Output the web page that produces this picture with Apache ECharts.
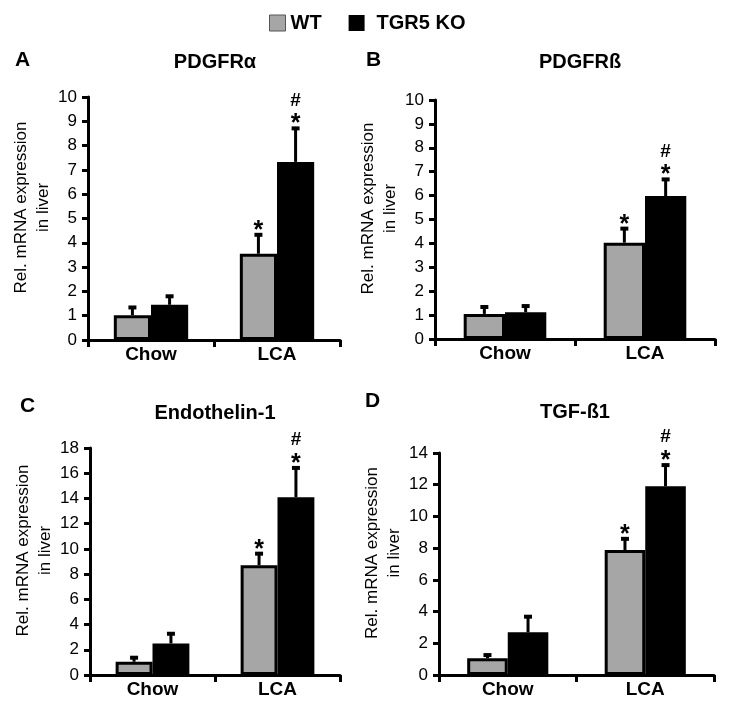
<!DOCTYPE html>
<html>
<head>
<meta charset="utf-8">
<script src="https://cdn.jsdelivr.net/npm/echarts@6/dist/echarts.min.js"></script>
<style>
  html, body { margin: 0; padding: 0; background: #fff; }
  #chart { width: 729px; height: 704px; }
</style>
</head>
<body>
<div id="chart"></div>
<script>
// data
const categories = ['Chow', 'LCA'];
const panelLetters = ['A', 'B', 'C', 'D'];
const panelTitles = ['PDGFRα', 'PDGFRß', 'Endothelin-1', 'TGF-ß1'];
const yMax = [10, 10, 18, 14];
const yStep = [1, 1, 2, 2];

const wtMean = [[1.02, 3.55], [1.05, 4.03], [1.05, 8.7], [1.05, 7.88]];
const wtErr = [[0.36, 0.82], [0.33, 0.63], [0.4, 1.0], [0.27, 0.77]];
const koMean = [[1.45, 7.33], [1.12, 5.98], [2.5, 14.1], [2.69, 11.9]];
const koErr = [[0.39, 1.42], [0.3, 0.74], [0.85, 2.4], [1.05, 1.4]];

// significance marks (bottom to top)
const wtMarks = [['', '*'], ['', '*'], ['', '*'], ['', '*']];
const koMarks = [['', '*#'], ['', '*#'], ['', '*#'], ['', '*#']];

const FONT = '"Liberation Sans", Arial, sans-serif';
const GAP = 0.41;  // barCategoryGap

// panel layout
const grids = [
  { left: 88, top: 97, width: 252, height: 243 },
  { left: 435, top: 100, width: 280, height: 239 },
  { left: 90, top: 448, width: 250, height: 227 },
  { left: 439, top: 453, width: 275, height: 222 }
];
const letterPos = [[15, 62], [366, 62], [20, 408], [365, 403]];
const titlePos = [[215, 62], [580, 62], [215, 413], [575, 412]];

const chart = echarts.init(document.getElementById('chart'));

// error bar + significance marks for one panel
const makeRenderer = (p) => (params, api) => {
  const cat = api.value(0);
  const mean = api.value(1);
  const err = api.value(2);
  const side = api.value(3);
  const band = api.size([1, 0])[0];
  const barW = band * (1 - GAP) / 2;
  const base = api.coord([cat, mean]);
  const top = api.coord([cat, mean + err]);
  const x = base[0] + (side ? 1 : -1) * barW / 2;
  const marks = (side ? koMarks : wtMarks)[p][cat];
  const children = [
    { type: 'line', shape: { x1: x, y1: base[1], x2: x, y2: top[1] }, style: { stroke: '#000', lineWidth: 3 } },
    { type: 'rect', shape: { x: x - 4, y: top[1] - 1, width: 8, height: 4 }, style: { fill: '#000' } }
  ];
  marks.split('').forEach((m) => {
    const star = m === '*';
    children.push({
      type: 'text',
      style: {
        x: x,
        y: star ? top[1] - 3 : top[1] - 27,
        text: m,
        fill: '#000',
        font: 'bold ' + (star ? 25 : 19) + 'px ' + FONT,
        align: 'center',
        verticalAlign: 'middle'
      }
    });
  });
  return { type: 'group', children: children };
};

const xAxes = [], yAxes = [], series = [], graphics = [];

grids.forEach((g, p) => {
  xAxes.push({
    type: 'category',
    gridIndex: p,
    data: categories,
    axisLine: { lineStyle: { color: '#000', width: 3 } },
    axisTick: { show: true, length: 7, lineStyle: { color: '#000', width: 3 } },
    axisLabel: { color: '#000', fontFamily: FONT, fontWeight: 'bold', fontSize: 19, margin: 5 }
  });
  yAxes.push({
    type: 'value',
    gridIndex: p,
    min: 0,
    max: yMax[p],
    interval: yStep[p],
    name: 'Rel. mRNA expression\nin liver',
    nameLocation: 'middle',
    nameGap: 31,
    nameTextStyle: {
      color: '#000', fontFamily: FONT, fontSize: 17, lineHeight: 22,
      align: 'center', padding: [0, 0, 0, 22]
    },
    axisLine: { show: true, lineStyle: { color: '#000', width: 3 } },
    axisTick: { show: true, length: 6, lineStyle: { color: '#000', width: 3 } },
    axisLabel: { color: '#000', fontFamily: FONT, fontSize: 17, margin: 11 },
    splitLine: { show: false }
  });
  series.push({
    name: 'WT',
    type: 'bar',
    xAxisIndex: p,
    yAxisIndex: p,
    data: wtMean[p],
    barGap: 0,
    barCategoryGap: (GAP * 100) + '%',
    itemStyle: { color: '#a6a6a6', borderColor: '#000', borderWidth: 3 }
  });
  series.push({
    name: 'TGR5 KO',
    type: 'bar',
    xAxisIndex: p,
    yAxisIndex: p,
    data: koMean[p],
    barGap: 0,
    barCategoryGap: (GAP * 100) + '%',
    itemStyle: { color: '#000', borderColor: '#000', borderWidth: 3 }
  });
  const errData = [];
  categories.forEach((c, i) => {
    errData.push([i, wtMean[p][i], wtErr[p][i], 0]);
    errData.push([i, koMean[p][i], koErr[p][i], 1]);
  });
  series.push({
    type: 'custom',
    xAxisIndex: p,
    yAxisIndex: p,
    data: errData,
    renderItem: makeRenderer(p),
    z: 5,
    silent: true
  });

  graphics.push({
    type: 'text',
    left: letterPos[p][0],
    top: letterPos[p][1] - 12,
    style: { text: panelLetters[p], fill: '#000', font: 'bold 21px ' + FONT }
  });
  graphics.push({
    type: 'text',
    x: titlePos[p][0],
    y: titlePos[p][1],
    style: { text: panelTitles[p], fill: '#000', font: 'bold 20px ' + FONT, align: 'center', verticalAlign: 'middle' }
  });
});

chart.setOption({
  animation: false,
  legend: {
    left: 269,
    top: 13,
    padding: 0,
    itemWidth: 16,
    itemHeight: 16,
    itemGap: 27,
    textStyle: { color: '#000', fontFamily: FONT, fontWeight: 'bold', fontSize: 20 },
    data: [
      { name: 'WT', icon: 'rect', itemStyle: { borderColor: '#555', borderWidth: 1 } },
      { name: 'TGR5 KO', icon: 'rect', itemStyle: { borderWidth: 0 }, textStyle: { padding: [0, 0, 0, 7] } }
    ]
  },
  grid: grids,
  xAxis: xAxes,
  yAxis: yAxes,
  series: series,
  graphic: graphics
});
</script>
</body>
</html>
